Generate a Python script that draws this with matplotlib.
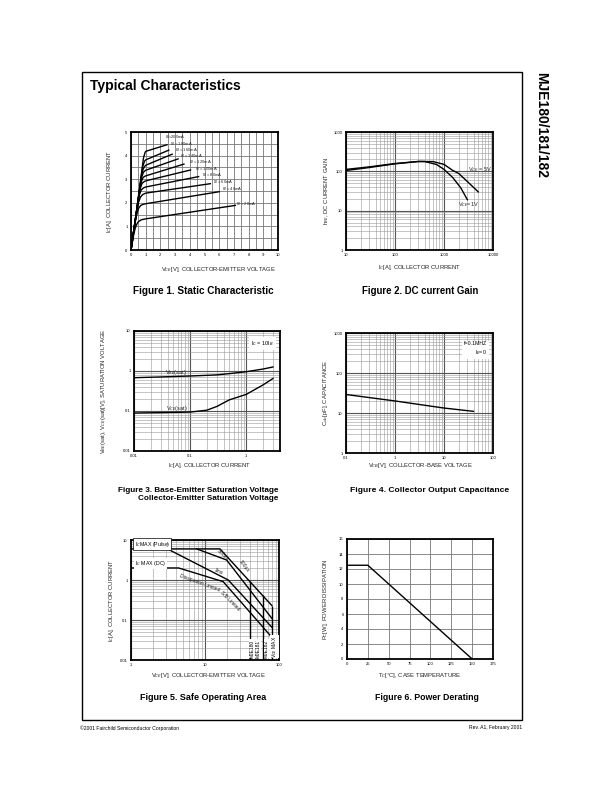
import matplotlib
matplotlib.use('Agg')
import matplotlib.pyplot as plt
import numpy as np
from matplotlib.ticker import FixedLocator, LogLocator, NullFormatter, MultipleLocator

# ---- Figure 1: static characteristic (V_CE [V], I_C [A]) per base current
ib_labels = ['20mA', '40mA', '60mA', '80mA', '100mA', '120mA', '140mA', '160mA', '180mA', '200mA']
static_vce = [
    [0, 0.1, 0.2, 0.3, 0.4, 0.5, 0.7, 1.0, 7.1],
    [0, 0.2, 0.35, 0.5, 0.65, 0.8, 1.0, 6.0],
    [0, 0.3, 0.5, 0.65, 0.8, 1.0, 5.4],
    [0, 0.3, 0.55, 0.7, 0.85, 1.0, 4.6],
    [0, 0.3, 0.6, 0.75, 0.9, 1.0, 4.05],
    [0, 0.3, 0.65, 0.8, 0.9, 1.0, 3.6],
    [0, 0.3, 0.7, 0.85, 1.0, 3.2],
    [0, 0.3, 0.75, 0.9, 1.0, 2.8],
    [0, 0.3, 0.8, 0.92, 1.0, 2.57],
    [0, 0.3, 0.85, 0.95, 1.0, 2.45],
]
static_ic = [
    [0, 0.35, 0.7, 0.95, 1.1, 1.2, 1.28, 1.32, 1.89],
    [0, 0.85, 1.4, 1.75, 1.88, 1.93, 1.96, 2.47],
    [0, 1.3, 2.0, 2.25, 2.35, 2.41, 2.81],
    [0, 1.3, 2.3, 2.55, 2.63, 2.67, 3.11],
    [0, 1.3, 2.55, 2.82, 2.9, 2.93, 3.39],
    [0, 1.3, 2.8, 3.05, 3.11, 3.14, 3.64],
    [0, 1.3, 3.05, 3.3, 3.38, 3.86],
    [0, 1.3, 3.3, 3.52, 3.59, 4.06],
    [0, 1.3, 3.55, 3.76, 3.82, 4.23],
    [0, 1.3, 3.9, 4.12, 4.18, 4.46],
]

# ---- Figure 2: DC current gain (I_C in mA)
hfe_ic_5v = [10, 30, 100, 300, 600, 1000, 1500, 2000, 3000, 5000]
hfe_5v = [112, 130, 158, 178, 177, 150, 106, 88, 55, 30]
hfe_ic_1v = [10, 30, 100, 300, 400, 700, 1000, 1500, 2200, 3000]
hfe_1v = [105, 125, 155, 178, 178, 150, 112, 70, 38, 19]

# ---- Figure 3: saturation voltages
sat_ic = [0.01, 0.03, 0.1, 0.2, 0.3, 0.5, 1, 2, 3]
vbe_sat = [0.68, 0.71, 0.75, 0.78, 0.80, 0.86, 0.96, 1.12, 1.26]
vce_sat = [0.089, 0.091, 0.094, 0.105, 0.13, 0.19, 0.26, 0.45, 0.65]

# ---- Figure 4: collector output capacitance
cob_vcb = [0.1, 1, 10, 40]
cob = [29, 20, 13.3, 11]

# ---- Figure 5: safe operating area
soa_100us_v = [1, 15.9, 80]
soa_100us_i = [6, 6, 0.23]
soa_500us_v = [7.7, 19.6, 80]
soa_500us_i = [6, 3.16, 0.11]
soa_1ms_v = [3.1, 20.6, 80]
soa_1ms_i = [6, 1.0, 0.066]
soa_dc_v = [1, 4.4, 17.6, 80]
soa_dc_i = [2, 2, 0.91, 0.037]
mje_names = ['MJE180', 'MJE181', 'MJE182']
mje_vmax = [40, 60, 80]
mje_top = [0.95, 0.42, 0.23]

# ---- Figure 6: power derating
derate_tc = [0, 25, 150]
derate_pc = [12.5, 12.5, 0]

W, H = 612, 792
plt.rcParams['font.family'] = ['Liberation Sans', 'DejaVu Sans']

fig = plt.figure(figsize=(W / 100, H / 100), dpi=100)


def add_ax(left, top, right, bottom):
    return fig.add_axes([left / W, 1 - bottom / H, (right - left) / W, (bottom - top) / H])


def ftext(x, y, s, **kw):
    return fig.text(x / W, 1 - y / H, s, **kw)


def style(ax, log=False):
    for sp in ax.spines.values():
        sp.set_linewidth(1.3)
    ax.tick_params(which='both', length=0, labelsize=3, pad=2.5)
    if log:
        ax.grid(which='major', color='#555555', lw=0.8)
        ax.grid(which='minor', color='#9a9a9a', lw=0.4)
    else:
        ax.grid(which='major', color='#777777', lw=0.6)
    ax.set_axisbelow(True)


def logaxis(axis, ticks, labels):
    axis.set_major_locator(FixedLocator(ticks))
    axis.set_ticklabels(labels)
    axis.set_minor_locator(LogLocator(base=10, subs=np.arange(2, 10)))
    axis.set_minor_formatter(NullFormatter())


lab = dict(fontsize=4.2, color='#222222')
cap = dict(fontweight='bold', ha='center', va='center')

# page frame and headings
fig.patches.append(plt.Rectangle((82 / W, 1 - 720 / H), 440 / W, 648 / H, transform=fig.transFigure,
                                 fill=False, lw=1.0, ec='black'))
ftext(90, 86, 'Typical Characteristics', fontsize=10, fontweight='bold', va='center')
ftext(541, 72, 'MJE180/181/182', fontsize=10, fontweight='bold', rotation=270, ha='center', va='top')
ftext(80, 728, '\u00a92001 Fairchild Semiconductor Corporation', fontsize=3.6, va='center')
ftext(522, 728, 'Rev. A1, February 2001', fontsize=3.6, va='center', ha='right')

# Figure 1
ax1 = add_ax(131, 132, 278, 250)
ib_text_v = [7.16, 6.16, 5.6, 4.8, 4.32, 3.93, 3.36, 3.0, 2.64, 2.3]
ib_text_i = [1.93, 2.56, 2.87, 3.15, 3.43, 3.7, 3.97, 4.24, 4.5, 4.76]
for k, (name, v, i) in enumerate(zip(ib_labels, static_vce, static_ic)):
    ax1.plot(v, i, color='black', lw=1.0)
    sep = '=' if name == '200mA' else ' = '
    ax1.text(ib_text_v[k], ib_text_i[k], 'I$_B$' + sep + name, fontsize=3.0, va='center', ha='left',
             color='#222222')
ax1.set_xlim(0, 10)
ax1.set_ylim(0, 5)
ax1.xaxis.set_major_locator(MultipleLocator(1))
ax1.xaxis.set_minor_locator(MultipleLocator(0.5))
ax1.yaxis.set_major_locator(MultipleLocator(1))
ax1.yaxis.set_minor_locator(MultipleLocator(0.5))
style(ax1)
ax1.grid(which='minor', color='#777777', lw=0.6)
ftext(218, 269, 'V$_{CE}$[V], COLLECTOR-EMITTER VOLTAGE', ha='center', va='center', **lab)
ftext(110, 191, 'I$_C$[A], COLLECTOR CURRENT', ha='center', va='center', rotation=90, **lab)
ftext(203, 291, 'Figure 1. Static Characteristic', fontsize=7.2, **cap)

# Figure 2
ax2 = add_ax(346, 132, 493, 250)
ax2.plot(hfe_ic_5v, hfe_5v, color='black', lw=1.0)
ax2.plot(hfe_ic_1v, hfe_1v, color='black', lw=1.0)
ax2.set_xscale('log')
ax2.set_yscale('log')
ax2.set_xlim(10, 10000)
ax2.set_ylim(1, 1000)
logaxis(ax2.xaxis, [10, 100, 1000, 10000], ['10', '100', '1000', '10000'])
logaxis(ax2.yaxis, [1, 10, 100, 1000], ['1', '10', '100', '1000'])
style(ax2, log=True)
ax2.text(3100, 108, 'V$_{CE}$ = 5V', fontsize=4, va='center', color='#222222')
ax2.text(1900, 14, 'V$_{CE}$=1V', fontsize=4, va='center', color='#222222')
ftext(420, 268, 'I$_C$[A], COLLECTOR CURRENT', ha='center', va='center', **lab)
ftext(327, 191, 'h$_{FE}$, DC CURRENT GAIN', ha='center', va='center', rotation=90, **lab)
ftext(420, 291, 'Figure 2. DC current Gain', fontsize=6.9, **cap)

# Figure 3
ax3 = add_ax(134, 331, 280, 451)
ax3.plot(sat_ic, vbe_sat, color='black', lw=1.0)
ax3.plot(sat_ic, vce_sat, color='black', lw=1.0)
ax3.set_xscale('log')
ax3.set_yscale('log')
ax3.set_xlim(0.01, 4)
ax3.set_ylim(0.01, 10)
logaxis(ax3.xaxis, [0.01, 0.1, 1], ['0.01', '0.1', '1'])
logaxis(ax3.yaxis, [0.01, 0.1, 1, 10], ['0.01', '0.1', '1', '10'])
style(ax3, log=True)
ax3.text(0.035, 0.9, 'V$_{BE}$(sat)', fontsize=4, va='center', color='#222222')
ax3.text(0.037, 0.115, 'V$_{CE}$(sat)', fontsize=4, va='center', color='#222222')
ax3.text(0.96, 0.93, 'I$_C$ = 10I$_B$', transform=ax3.transAxes, fontsize=4, ha='right', va='top',
         bbox=dict(facecolor='white', edgecolor='none', pad=1.5))
ftext(210, 465, 'I$_C$[A], COLLECTOR CURRENT', ha='center', va='center', **lab)
ftext(103, 391, 'V$_{BE}$(sat), V$_{CE}$(sat)[V], SATURATION VOLTAGE', ha='center', va='center',
      rotation=90, **lab)
ftext(278, 490, 'Figure 3. Base-Emitter Saturation Voltage', fontsize=5.9, fontweight='bold',
      ha='right', va='center')
ftext(278, 499, 'Collector-Emitter Saturation Voltage', fontsize=5.9, fontweight='bold',
      ha='right', va='center')

# Figure 4
ax4 = add_ax(346, 333, 493, 453)
ax4.plot(cob_vcb, cob, color='black', lw=1.0)
ax4.set_xscale('log')
ax4.set_yscale('log')
ax4.set_xlim(0.1, 100)
ax4.set_ylim(1, 1000)
logaxis(ax4.xaxis, [0.1, 1, 10, 100], ['0.1', '1', '10', '100'])
logaxis(ax4.yaxis, [1, 10, 100, 1000], ['1', '10', '100', '1000'])
style(ax4, log=True)
ax4.text(0.96, 0.93, 'f=0.1MHZ\nI$_E$=0', transform=ax4.transAxes, fontsize=3.8, ha='right', va='top',
         linespacing=1.3, bbox=dict(facecolor='white', edgecolor='none', pad=1.5))
ftext(420, 466, 'V$_{CB}$[V], COLLECTOR-BASE VOLTAGE', ha='center', va='center', **lab)
ftext(325, 393, 'C$_{ob}$[pF], CAPACITANCE', ha='center', va='center', rotation=90, **lab)
ftext(430, 491, 'Figure 4. Collector Output Capacitance', fontsize=6.1, **cap)

# Figure 5
ax5 = add_ax(131, 540, 279, 660)
for v, i in [(soa_100us_v, soa_100us_i), (soa_500us_v, soa_500us_i),
             (soa_1ms_v, soa_1ms_i), (soa_dc_v, soa_dc_i)]:
    ax5.plot(v, i, color='black', lw=1.0)
ax5.vlines(mje_vmax, 0.01, mje_top, color='black', lw=1.0)
ax5.set_xscale('log')
ax5.set_yscale('log')
ax5.set_xlim(1, 100)
ax5.set_ylim(0.01, 10)
logaxis(ax5.xaxis, [1, 10, 100], ['1', '10', '100'])
logaxis(ax5.yaxis, [0.01, 0.1, 1, 10], ['0.01', '0.1', '1', '10'])
style(ax5, log=True)
t5 = dict(fontsize=3.6, color='#222222', ha='center', va='center')
ax5.text(1.12, 7.8, 'I$_C$MAX (Pulse)', fontsize=3.8, ha='left', va='center',
         bbox=dict(facecolor='white', edgecolor='black', lw=0.5, pad=1.0))
ax5.text(1.12, 2.6, 'I$_C$ MAX (DC)', fontsize=3.8, ha='left', va='center',
         bbox=dict(facecolor='white', edgecolor='none', pad=0.8))
ax5.text(8.6, 0.85, 'Dissipation Limited', rotation=-20, **t5)
ax5.text(22, 0.3, 'S/B Limited', rotation=-45, **t5)
ax5.text(15, 1.65, '1ms', rotation=-25, **t5)
ax5.text(17.6, 4.2, '500\u00b5s', rotation=-40, **t5)
ax5.text(34, 2.2, '100\u00b5s', rotation=-52, **t5)
for name, xv in zip(mje_names + ['V$_{CE}$ MAX'], [43, 53, 68, 87]):
    ax5.text(xv, 0.0115, name, rotation=90, fontsize=3.6, ha='center', va='bottom',
             bbox=dict(facecolor='white', edgecolor='none', pad=0.3))
ftext(208, 676, 'V$_{CE}$[V], COLLECTOR-EMITTER VOLTAGE', ha='center', va='center', **lab)
ftext(112, 600, 'I$_C$[A], COLLECTOR CURRENT', ha='center', va='center', rotation=90, **lab)
ftext(203, 698, 'Figure 5. Safe Operating Area', fontsize=6.5, **cap)

# Figure 6
ax6 = add_ax(347, 539, 493, 659)
ax6.plot(derate_tc, derate_pc, color='black', lw=1.0)
ax6.set_xlim(0, 175)
ax6.set_ylim(0, 16)
ax6.xaxis.set_major_locator(MultipleLocator(25))
ax6.yaxis.set_major_locator(MultipleLocator(2))
style(ax6)
ftext(420, 676, 'T$_C$[\u00b0C], CASE TEMPERATURE', ha='center', va='center', **lab)
ftext(326, 599, 'P$_C$[W], POWER DISSIPATION', ha='center', va='center', rotation=90, **lab)
ftext(427, 698, 'Figure 6. Power Derating', fontsize=6.3, **cap)

fig.savefig('out.png', dpi=100)
